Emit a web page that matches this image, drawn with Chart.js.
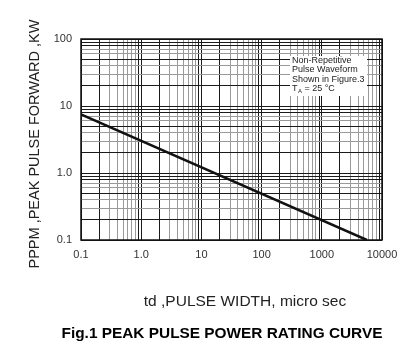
<!DOCTYPE html>
<html>
<head>
<meta charset="utf-8">
<script src="https://cdn.jsdelivr.net/npm/chart.js@4"></script>
<style>
  html, body { margin: 0; padding: 0; background: #fff; }
  #wrap { width: 414px; height: 358px; position: relative; }
</style>
</head>
<body>
<div id="wrap"><canvas id="curve" width="414" height="358"></canvas></div>
<script>
// Data
const pulseWidth = [0.1, 5600];      // td, micro sec
const peakPower = [7.5, 0.1];        // PPPM, KW
const xDecades = [0.1, 1, 10, 100, 1000, 10000];
const xLabels = ['0.1', '1.0', '10', '100', '1000', '10000'];
const yDecades = [0.1, 1, 10, 100];
const yLabels = ['0.1', '1.0', '10', '100'];
const noteLines = ['Non-Repetitive', 'Pulse Waveform', 'Shown in Figure.3'];

const FONT = '"Liberation Sans", Arial, sans-serif';

// ticks at 1..9 in every decade
function logTicks(decades) {
  const out = [];
  for (let i = 0; i < decades.length; i++) {
    if (i === decades.length - 1) { out.push(decades[i]); break; }
    for (let m = 1; m <= 9; m++) out.push(+(decades[i] * m).toPrecision(3));
  }
  return out.map(v => ({ value: v }));
}
function mantissa(v) {
  return Math.round(v / Math.pow(10, Math.floor(Math.log10(v) + 1e-9)));
}
function labelFor(decades, labels) {
  return (v) => {
    const i = decades.findIndex(d => Math.abs(d - v) / d < 1e-6);
    return i >= 0 ? labels[i] : '';
  };
}
const darkMinorX = [1, 2, 9];
const darkMinorY = [1, 2, 5, 8, 9];

const textPlugin = {
  id: 'texts',
  afterDatasetsDraw(chart) {
    const ctx = chart.ctx;
    // note box
    ctx.save();
    ctx.fillStyle = '#fff';
    ctx.fillRect(290, 56, 77, 40);
    ctx.fillStyle = '#222';
    ctx.font = '9px ' + FONT;
    ctx.textBaseline = 'alphabetic';
    ctx.textAlign = 'left';
    noteLines.forEach((t, i) => ctx.fillText(t, 292, 63 + i * 9.3));
    ctx.fillText('T', 292, 91);
    ctx.font = '6px ' + FONT;
    ctx.fillText('A', 298, 93);
    ctx.font = '9px ' + FONT;
    ctx.fillText(' = 25 \u00B0C', 302, 91);
    ctx.restore();
  },
  afterDraw(chart) {
    const ctx = chart.ctx;
    const a = chart.chartArea;
    ctx.save();
    ctx.strokeStyle = '#111';
    ctx.lineWidth = 1.5;
    ctx.strokeRect(a.left, a.top, a.right - a.left, a.bottom - a.top);
    ctx.fillStyle = '#222';
    ctx.textAlign = 'center';
    ctx.textBaseline = 'middle';
    ctx.font = '15.5px ' + FONT;
    ctx.fillText('td ,PULSE WIDTH, micro sec', 245, 302);
    ctx.font = 'bold 15.4px ' + FONT;
    ctx.fillStyle = '#000';
    ctx.fillText('Fig.1 PEAK PULSE POWER RATING CURVE', 222, 334);
    ctx.translate(35, 144);
    ctx.rotate(-Math.PI / 2);
    ctx.fillStyle = '#222';
    ctx.font = '14.5px ' + FONT;
    ctx.fillText('PPPM ,PEAK PULSE FORWARD ,KW', 0, 0);
    ctx.restore();
  }
};

new Chart(document.getElementById('curve'), {
  type: 'line',
  data: {
    datasets: [{
      data: pulseWidth.map((x, i) => ({ x: x, y: peakPower[i] })),
      borderColor: '#111',
      borderWidth: 2.5,
      pointRadius: 0,
      fill: false,
      tension: 0,
    }]
  },
  options: {
    responsive: false,
    animation: false,
    events: [],
    layout: { padding: { left: 0, right: 32, top: 39, bottom: 0 } },
    plugins: { legend: { display: false }, tooltip: { enabled: false } },
    scales: {
      x: {
        type: 'logarithmic',
        min: 0.1,
        max: 10000,
        afterBuildTicks: (s) => { s.ticks = logTicks(xDecades); },
        afterFit: (s) => { s.height = 118; },
        border: { display: false },
        grid: {
          drawTicks: false,
          lineWidth: 1,
          color: (c) => {
            const m = mantissa(c.tick.value);
            return darkMinorX.includes(m) ? '#1a1a1a' : '#9a9a9a';
          }
        },
        ticks: {
          autoSkip: false,
          maxRotation: 0,
          padding: 8,
          color: '#333',
          font: { family: FONT, size: 11 },
          callback: labelFor(xDecades, xLabels)
        }
      },
      y: {
        type: 'logarithmic',
        min: 0.1,
        max: 100,
        afterBuildTicks: (s) => { s.ticks = logTicks(yDecades); },
        afterFit: (s) => { s.width = 81; },
        border: { display: false },
        grid: {
          drawTicks: false,
          lineWidth: 1,
          color: (c) => {
            const m = mantissa(c.tick.value);
            return darkMinorY.includes(m) ? '#1a1a1a' : '#9a9a9a';
          }
        },
        ticks: {
          autoSkip: false,
          padding: 9,
          color: '#333',
          font: { family: FONT, size: 11 },
          callback: labelFor(yDecades, yLabels)
        }
      }
    }
  },
  plugins: [textPlugin]
});
</script>
</body>
</html>
